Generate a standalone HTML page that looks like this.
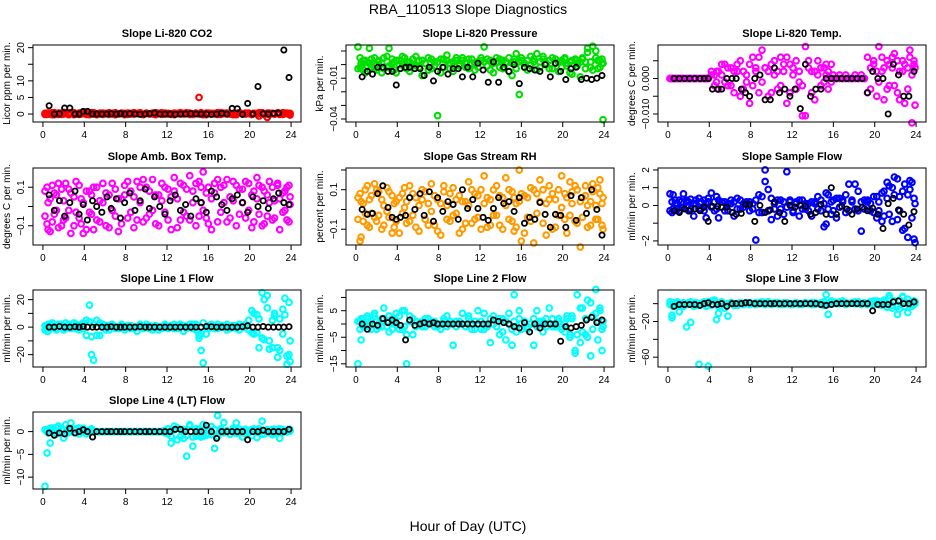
<!DOCTYPE html>
<html><head><meta charset="utf-8"><title>RBA_110513 Slope Diagnostics</title>
<style>
html,body{margin:0;padding:0;background:#fff;}
svg{display:block;font-family:"Liberation Sans",sans-serif;}
</style></head>
<body>
<svg id="chart" width="936" height="540" viewBox="0 0 936 540" xmlns="http://www.w3.org/2000/svg">
<rect width="936" height="540" fill="#fff"/>
<text x="468" y="14" text-anchor="middle" font-size="14">RBA_110513  Slope Diagnostics</text>
<text x="468" y="531" text-anchor="middle" font-size="14">Hour of Day (UTC)</text>
</svg>
<script>
const blackTimes=[0.6,1.1,1.6,2.1,2.6,3.1,3.5,3.9,4.3,4.8,5.2,5.7,6.2,6.6,7.1,7.5,7.9,8.4,8.9,9.4,9.9,10.3,10.8,11.3,11.8,12.3,12.8,13.3,13.8,14.3,14.8,15.3,15.8,16.3,16.8,17.3,17.8,18.3,18.8,19.3,19.8,20.3,20.8,21.3,21.8,22.3,22.8,23.3,23.8];
const colorTimes=[0.2,0.4,0.5,0.7,0.9,1.1,1.3,1.5,1.8,2.0,2.2,2.5,2.7,3.0,3.2,3.5,3.7,3.9,4.2,4.5,4.7,4.9,5.2,5.5,5.8,6.1,6.4,6.7,7.0,7.3,7.6,7.9,8.2,8.5,8.8,9.1,9.4,9.7,10.0,10.3,10.6,10.9,11.2,11.5,11.8,12.1,12.4,12.7,13.0,13.3,13.6,13.9,14.2,14.5,14.8,15.1,15.3,15.5,15.8,16.0,16.3,16.6,16.9,17.2,17.5,17.8,18.1,18.4,18.7,19.0,19.3,19.6,19.9,20.2,20.4,20.7,20.9,21.2,21.4,21.7,21.9,22.2,22.4,22.7,22.9,23.2,23.4,23.6,23.8,23.9];
const xTicks=[0,4,8,12,16,20,24];

const co2Black=[2.5,0,0.1,1.8,1.8,0,0,0.8,0.8,0,0,0,0,0.1,0,0.1,0,0.1,0,-0.1,0,0.1,0.3,0,0,0,-0.1,0,0,0.1,0,0,0,-0.1,0,0.2,0,1.7,1.6,-0.1,3.2,0,8.3,0.1,0,0.2,0.3,19.3,11];
const co2A=[0.2,-0.1,0.3,0,0.4,-0.2,0.1,0.3,-0.1,0.5,0.2,0,0.4,-0.2,0.1,0.3,0,0.2,-0.1,0.3,0.1,0.4,-0.2,0,0.3,0.1,-0.1,0.2,0.4,0,0.1,-0.2,0.3,0.2,0,0.1,0.4,-0.1,0.2,0,0.3,-0.2,0.1,0.4,0,0.2,-0.1,0.3,0.1,0,0.2,0.4,-0.1,0.1,0.3,5,0,-0.2,0.3,0.1,0.2,0,0.4,-0.1,0.1,0.3,0,0.2,-0.2,0.4,0.1,0,0.3,-0.1,0.2,0.1,0.4,0,-0.2,-1,0.3,0.1,0,0.2,-0.1,0.4,0.1,0.3,0,0.2];
const co2B=[-0.1,0.3,0,0.2,-0.2,0.4,0.1,-0.1,0.3,0,0.2,-0.2,0.1,0.4,0,-0.1,0.3,0.1,0.2,-0.2,0.4,0,0.1,0.3,-0.1,0.2,0.4,0,-0.2,0.1,0.3,0.2,-0.1,0,0.4,0.2,0.1,-0.2,0.3,0.1,0,0.4,0.2,-0.1,0.3,0,0.1,-0.2,0.2,0.4,0,0.1,0.3,-0.1,0.2,0,0.4,0.1,-0.2,0.3,0,0.2,-0.1,0.4,0.3,0,0.1,-0.2,0.2,0.4,0,0.3,0.1,-0.1,0.2,0,-0.6,0.4,0.1,0.3,-0.2,0.2,0,0.4,0.1,-0.1,0.3,0.2,0,-0.3];

const presBlack=[-0.009,-0.005,-0.007,-0.002,-0.002,-0.005,-0.005,-0.015,-0.003,-0.002,-0.002,-0.003,-0.003,-0.008,-0.002,-0.012,-0.005,-0.002,-0.007,-0.003,-0.003,-0.009,-0.002,-0.009,0.001,-0.004,-0.013,0.002,-0.013,-0.002,-0.005,0,-0.014,-0.002,-0.003,-0.004,-0.005,0,-0.009,0.001,-0.005,-0.011,-0.003,-0.002,-0.011,-0.01,-0.011,-0.01,-0.008];
const presA=[0.013,-0.002,0.001,-0.004,0.003,-0.001,0.012,0.004,-0.003,0,0.002,-0.006,0.005,-0.002,0.012,0.001,-0.004,0.003,0,0.006,-0.002,0.002,-0.005,0.004,-0.001,0.003,-0.008,0.001,0.005,-0.003,0.002,-0.0375,0.004,-0.002,0.003,0.001,-0.005,0.005,0,0.003,-0.002,0.004,0.001,-0.004,0.002,0.005,0.013,-0.001,0.003,-0.006,0.002,0.004,-0.003,0.001,0.005,-0.008,0.002,0.008,-0.022,0.003,0.001,-0.004,0.006,0.002,0.008,-0.002,0.004,0,-0.003,0.005,0.001,-0.005,0.003,0.004,-0.001,0.002,-0.007,0.003,0.001,-0.009,0.004,0.002,0.012,-0.002,0.0135,0.005,-0.003,0.003,0.001,-0.0405];
const presB=[-0.003,0.005,-0.001,0.003,-0.006,0.002,0.001,-0.002,0.005,-0.004,0.003,0.001,-0.003,0.006,-0.001,0.004,0.002,-0.006,0.003,0.001,0.005,-0.003,0.002,0,0.006,-0.002,0.003,0.001,-0.004,0.004,-0.001,0.002,-0.006,0.004,0.007,-0.003,0.002,0.003,-0.001,0.005,0.002,-0.003,0.004,0.001,-0.002,0.003,0.002,0.004,-0.004,0.001,0.005,-0.002,0.003,0.002,-0.005,0.001,0.004,-0.003,0.002,0.005,-0.002,0.003,0,0.004,-0.004,0.002,0.006,0.001,0.003,-0.003,0.004,0.002,-0.002,0.005,0.001,-0.006,0.003,0.004,-0.001,0.002,0.005,-0.003,0.009,0.002,-0.004,0.01,0.003,-0.002,0.004,0.001];

const tempBlack=[0,0,0,0,0,0,0,0,-0.003,-0.003,-0.003,0,0,0,-0.003,-0.004,-0.005,0,0.001,-0.006,-0.006,0.003,-0.004,-0.003,-0.005,-0.003,-0.0085,0.004,-0.005,-0.003,-0.003,0,0,0,0,0,0,0,0,-0.004,0.002,0,0,-0.01,0.004,0.001,-0.005,-0.005,0.002];
const tempA=[0,0,0,0,0,0,0,0,0,0,0,0,0,0,0,0,0,0,0.001,-0.002,0.002,-0.003,0.001,0.004,-0.002,0.003,-0.004,0.002,0.005,-0.003,0.001,-0.007,0.006,0.002,-0.004,0.008,0.003,-0.005,0.004,0.001,-0.003,0.006,0.002,-0.007,0.004,0.001,-0.003,0.002,-0.0105,0.009,0.003,-0.004,0.002,0.005,-0.002,0.003,0.001,-0.003,0.004,0,0,0.001,0,0,0,0,0.001,0,0,0,0.006,-0.003,0.004,-0.005,0.009,0.002,-0.006,0.005,-0.002,0.003,0.007,-0.004,0.002,0.005,-0.007,0.003,0.008,-0.0125,0.004,-0.0075];
const tempB=[0,0,0,0,0,0,0,0,0,0,0,0,0,0,0,0,0,0,0.002,0.001,-0.001,0.002,0.004,-0.001,0.003,-0.002,0.002,0.004,-0.005,0.002,-0.001,0.004,-0.002,0.003,0.006,-0.001,0.003,0.002,-0.004,0.005,0.002,-0.002,0.004,0.006,-0.004,0.003,0.005,-0.001,-0.002,-0.0105,0.005,0.002,-0.006,0.001,0.003,-0.001,0.004,0.002,-0.001,0.001,0,0,0,0.001,0,0,0,0,0.001,0,-0.004,0.003,0.005,0.002,-0.001,0.006,0.003,-0.003,0.004,0.006,-0.002,0.005,-0.006,0.002,0.004,-0.003,0.006,0.001,0.005,0.003];

const ambBlack=[0.06,-0.02,0.03,-0.05,0.02,0.08,-0.04,0.01,-0.07,0.03,0,-0.03,0.05,-0.01,0.04,-0.06,0.02,0.07,-0.02,0.03,0.09,-0.01,0.05,0,-0.04,0.03,0.06,-0.02,0.01,-0.05,0.04,0.02,-0.03,0.08,0.05,0.01,-0.02,0.04,0.06,0.02,-0.03,0.05,0,0.03,-0.01,0.04,0.07,0.02,0.01];
const ambA=[-0.05,0.1,-0.12,0.04,-0.08,0.07,-0.02,0.12,-0.1,0.03,-0.06,0.09,-0.14,0.05,-0.03,0.11,-0.09,0.02,-0.12,0.08,-0.04,0.1,-0.07,0.03,0.12,-0.1,0.06,-0.02,0.09,-0.13,0.04,0.11,-0.06,0.08,-0.11,0.13,0.02,-0.08,0.1,-0.04,0.14,-0.09,0.06,0.12,-0.03,0.09,-0.12,0.15,0.04,-0.07,0.11,-0.05,0.16,0.08,-0.1,0.13,0.02,0.18,-0.06,0.1,-0.12,0.07,0.14,-0.03,0.11,-0.08,0.05,0.13,-0.1,0.09,0.02,-0.06,0.12,-0.11,0.08,0.15,-0.04,0.1,-0.09,0.06,0.13,-0.07,0.03,0.11,-0.12,0.07,-0.02,0.1,-0.08,0.05];
const ambB=[0.08,-0.09,0.02,-0.13,0.11,-0.04,0.06,-0.11,0.09,-0.07,0.12,-0.02,0.07,-0.1,0.13,-0.06,0.04,-0.14,0.08,-0.03,0.06,-0.12,0.1,-0.08,0.02,0.07,-0.11,0.12,-0.05,0.04,-0.09,0.06,0.13,-0.03,0.05,-0.07,0.1,0.14,-0.06,0.08,-0.02,0.06,-0.1,0.03,0.1,-0.07,0.05,0.08,-0.11,0.12,-0.03,0.09,-0.07,0.02,0.12,-0.05,0.1,-0.02,0.07,-0.09,0.04,0.12,-0.08,0.1,0.02,0.14,-0.06,0.03,0.11,-0.04,0.09,0.13,-0.02,0.06,-0.08,0.04,0.11,-0.1,0.08,-0.05,0.02,0.1,-0.06,0.12,0.04,-0.03,0.08,-0.07,0.11,0.01];

const rhBlack=[0.0,-0.025,-0.02,0.08,0.12,0.01,-0.04,-0.05,-0.04,-0.03,0.06,0,0.08,-0.03,0.09,-0.06,0.06,-0.01,0.04,0.025,-0.05,0.1,0.005,0.05,0.005,-0.04,-0.055,0.005,0.06,0.03,0.04,-0.01,0.06,-0.07,-0.04,-0.05,0.035,-0.025,-0.09,-0.025,-0.03,-0.09,0.07,-0.055,0.06,-0.02,0.1,0.0,-0.13];
const rhA=[-0.05,0.08,-0.14,0.03,0.1,-0.08,0.05,-0.02,0.13,-0.06,0.09,-0.1,0.02,0.11,-0.04,0.07,-0.09,0.04,-0.12,0.08,0.01,-0.07,0.12,-0.03,0.06,-0.11,0.1,-0.05,0.03,0.13,-0.08,0.05,-0.13,0.09,0.02,-0.06,0.11,-0.02,0.07,-0.1,0.04,0.14,-0.07,0.08,-0.04,0.1,0.17,-0.09,0.05,-0.03,0.12,-0.08,0.06,0.16,-0.05,0.09,-0.11,0.03,0.2,-0.16,0.07,-0.04,0.11,-0.17,0.08,0.15,-0.07,0.03,0.12,-0.1,0.05,-0.03,0.17,0.08,-0.12,0.14,0.03,-0.06,0.1,-0.19,0.06,0.12,-0.09,0.04,0.09,-0.05,0.11,0.15,-0.08,0.06];
const rhB=[0.06,-0.16,0.04,-0.06,-0.02,0.12,-0.09,0.07,-0.04,0.1,-0.03,0.05,-0.08,-0.01,0.09,-0.12,0.03,-0.06,0.06,-0.02,0.11,0.04,-0.06,0.08,-0.09,0.02,0.05,0.09,-0.08,-0.01,0.07,-0.11,0.03,0.12,-0.05,0.08,-0.03,0.05,-0.12,0.04,-0.07,0.02,0.1,-0.05,0.07,-0.1,0.03,0.06,-0.08,0.1,-0.03,0.07,-0.1,0.02,0.1,-0.06,0.06,-0.09,0.04,0.08,-0.12,0.06,-0.06,0.1,-0.02,0.04,0.1,-0.13,0.05,0.08,-0.09,0.1,0.01,-0.05,0.06,-0.03,0.09,0.12,-0.07,0.04,-0.04,0.07,0.02,-0.08,0.13,0.02,-0.05,0.08,0.03,-0.1];

const sampleBlack=[-0.3,-0.4,-0.2,-0.3,-0.2,-0.3,-0.1,-0.9,-0.05,-0.05,-0.1,-0.1,-0.4,-0.5,-0.45,0.05,0.05,-0.9,0,-0.4,-0.25,0.2,-0.4,-0.9,0,-0.1,0,-0.05,-0.5,-0.4,0.05,-0.5,1.0,-0.5,-0.05,-0.2,-0.5,-0.2,-0.1,-0.3,-0.15,-0.5,-1.3,0.1,0.4,-0.25,-0.5,-1.1,-0.35];
const sampleA=[0.65,-0.4,0.6,0.1,-0.2,0.3,-0.1,0.65,0.2,-0.3,0.35,-0.6,0.1,0.4,-0.2,0.3,-0.7,0.2,0.7,-0.3,0.5,-0.7,0.2,-0.3,0.1,0.3,-0.6,0.4,-0.2,0.1,0.2,-0.3,0.1,-1.95,0.6,-0.4,2.0,0.9,-0.8,0.1,-0.6,0.3,-0.5,1.9,0.2,-0.3,0.1,-0.6,0.3,-0.2,0.1,-0.6,0.2,0.5,-0.3,0.1,-1.05,0.6,-0.5,0.3,-0.7,0.4,0.2,-0.4,1.2,0.3,-0.2,0.8,-1.45,0.3,0.2,-0.3,0.5,-0.7,0.2,-0.9,0.8,1.3,-0.5,1.0,1.6,-0.8,0.5,-1.4,1.2,-1.8,0.9,1.3,-1.9,0.1];
const sampleB=[-0.3,0.2,-0.2,0.3,0.1,-0.3,0.2,-0.1,0.3,0.2,-0.2,0.1,0.3,-0.2,0.2,-0.3,0.1,0.4,-0.1,0.2,-0.2,0.3,-0.1,0.2,-0.3,0.1,0.2,-0.2,0.3,-0.1,0.1,0.2,-0.2,0.3,-0.4,0.5,1.35,-0.3,0.4,-0.2,0.3,-0.2,0.2,-0.1,0.3,-0.4,0.2,0.3,-0.2,0.1,-0.3,0.2,0.1,-0.2,0.3,-1.2,0.7,-0.2,0.2,-0.3,0.4,-0.1,0.3,0.6,-0.3,0.2,1.2,-0.3,0.2,-0.2,0.3,0.1,-0.4,0.5,-0.3,0.7,-0.6,0.4,1.1,-0.9,0.6,1.5,-0.3,0.8,-1.3,0.6,1.4,-0.7,0.4,-2.1];

const line1Black=[0,0,0.5,0,0,0.3,0,0.5,0,0,0,0,0,0.3,0,0,0,0,0,0.3,0,0,0,0,0,0,0,0,0,0,0,0,0.5,0.3,0,0,0,0,0,0.3,1,0,0,0.5,0,0,0,0,0.3];
const line1A=[-2,1,-3,2,0,1,-1,2,0,-2,3,1,-1,0,2,-2,1,3,-6,16,-20,-24,5,-6,2,1,-2,1,0,-1,2,0,1,-1,0,-3,1,0,2,-1,0,1,-2,0,1,-1,0,2,-1,1,-3,0,2,-1,2,-6,-17,-26,-5,1,0,-1,2,0,1,-2,0,1,-1,2,1,0,-2,12,-5,9,-15,25,-9,14,-16,5,10,-22,-17,13,21,-27,-20,-25];
const line1B=[1,-3,2,-1,3,0,-2,1,2,0,-1,2,0,3,-1,1,2,-1,5,4,-7,2,-6,3,0,-2,1,2,-1,0,1,-2,0,1,-1,0,2,-1,0,1,-2,1,0,-1,2,0,1,-1,0,2,1,-1,0,2,-2,-8,-5,3,0,-1,2,0,-1,1,0,2,-1,0,1,-2,0,2,5,-4,10,-4,6,-8,20,23,-10,-15,8,-15,6,-5,9,-21,18,-10];

const line2Black=[0,-2,0,-0.5,2,0.5,1.5,0.5,-0.5,-6,1.5,-0.5,0,0.5,0,0.5,0,0,0,0,0,0,0,0,0,0,0,1.5,1,0.5,0,-1,-1.5,0.5,-3,0,-1.5,0,0,0,-6.5,-1,-1.5,-1,-0.5,1.5,2.5,0.5,1.5];
const line2A=[-15,1,-6,2,-1,3,0,-2,4,1,-1,2,6,-1,3,-2,1,0,-2,5,-1,-15,3,-4,1,0,-1,2,0,1,-1,0,-2,1,3,0,-8,1,0,4,-1,2,0,-2,5,1,-2,0,-7,3,-1,-4,2,-6,4,-8,11,-3,5,-2,1,-2,0,-8,5,1,-3,2,6,-1,0,2,-1,-3,2,-5,3,-10,11,-7,6,-4,9,-12,3,13,-6,5,-10,1];
const line2B=[1,-2,2,-1,0,2,-1,1,3,-2,0,-1,2,1,-3,2,0,4,3,-2,5,-4,1,2,-1,0,1,-1,2,0,1,-1,0,2,-1,1,0,-1,1,0,-1,3,-2,1,0,-2,4,-1,2,0,1,2,-3,1,0,-2,1,-1,2,0,1,-1,0,2,-1,0,1,-1,0,2,-1,1,-2,0,3,-4,2,-11,-4,6,-3,2,-5,8,-2,4,1,6,-2,-1];

const line3Black=[-3,-1,-1,-1,-1,-2,0,1,-1,-1,0,-3,0,0,0,1,1,0,0,0,0,0,0,0,0,0,0,0,0,0,-1,-2,-1,0,0,0,0,0,0,0,-8,-1,-1,-1,2,3,0,0,2];
const line3A=[-1,-13,-3,-2,0,-9,-1,-3,-26,1,-21,-3,0,-68,-1,2,-3,-70,-2,3,-18,-3,0,-5,-14,1,0,-2,1,0,1,-1,0,1,0,2,0,1,-1,0,1,0,-1,1,0,-1,1,0,-1,1,0,1,-1,0,1,-2,10,-12,0,2,1,0,3,1,0,1,0,2,0,1,-1,0,3,0,-1,2,1,-4,9,-2,3,-12,-6,8,2,-10,-1,-3,2,0];
const line3B=[2,-16,1,-1,2,0,-3,1,-1,0,2,-1,1,-2,0,-1,1,2,3,4,1,-11,2,-1,0,1,-2,0,1,-1,0,1,0,-1,1,0,-1,2,0,1,0,-1,1,0,-1,0,1,-1,0,1,0,-1,1,0,-1,2,-1,0,3,1,0,2,1,-1,0,1,2,0,-1,1,0,2,-1,3,2,-2,4,-1,6,-5,2,-3,4,7,-3,5,1,-1,3,2];

const line4Black=[-0.3,-0.8,-0.3,-0.5,0.7,-0.3,0,0.4,0,-1.2,0,0,0,0,0,0,0,0,0,0,0,0,0,0,0,0,0.5,0.5,0,0,0,0,1.4,0,-1.5,0,0,0,0,0,-1.8,0,0,0.3,0,0,0,0,0.5];
const line4A=[-12,-4.7,0.5,-2.5,0.8,0.3,-0.5,1.2,0.6,-1.4,1.5,-0.2,1.9,0.5,-0.3,0.8,0.2,0.7,-0.5,0.3,0.6,0,0,0,0,0,0,0,0,0,0,0,0,0,0,0,0,0,0,0,0,0,0,0,0.3,-0.5,-2.5,1.2,-1.8,0.5,-1.5,-5.4,1.2,-3.2,-1,0.6,-1.2,1.5,-0.8,-0.5,1.1,-3.7,3.5,0.2,2,0,-0.5,0.7,1.9,-0.4,-1.2,0.5,-0.3,0.4,0.2,-1.3,0.6,2.3,-0.5,0.4,0.2,-0.7,0.5,0.3,-1.5,0.4,0.2,0,0.5,0.1];
const line4B=[0.4,0.2,-0.3,0.7,0.5,-0.4,0.9,-0.2,0.5,0.3,-0.6,0.8,0.3,-0.2,0.6,-0.5,0.4,0.3,0.1,-0.3,0.2,0,0,0,0,0,0,0,0,0,0,0,0,0,0,0,0,0,0,0,0,0,0,0,-0.3,0.6,-1,0.4,0.8,-1.1,0.5,-0.8,1.5,-1.2,0.6,-0.9,0.3,-1,1.2,0.5,-0.7,0.4,-1.1,0.6,-0.3,0.2,-0.6,0.3,-0.4,0.5,0.3,-0.5,0.2,-0.9,0.6,-0.2,0.4,-0.6,0.3,0.2,-0.3,0.5,-0.4,0.2,0.6,-0.2,0.3,-0.1,0.2,0.4];

const colLeft=[33,346,658], rowTop=[45,168,290,412], boxW=268, boxH=77;
const panels=[
 {name:'co2',title:'Slope Li-820 CO2',ylab:'Licor ppm per min.',col:0,row:0,ymin:-2.4,ymax:20.8,ticks:[0,5,10,15,20],labels:['0','5','10','','20'],color:'#ff0000',a:co2A,b:co2B,k:co2Black},
 {name:'pressure',title:'Slope Li-820 Pressure',ylab:'kPa per min.',col:1,row:0,ymin:-0.0422,ymax:0.0144,ticks:[0.01,0,-0.01,-0.02,-0.03,-0.04],labels:['','','-0.01','','','-0.04'],color:'#00e000',a:presA,b:presB,k:presBlack},
 {name:'temp',title:'Slope Li-820 Temp.',ylab:'degrees C per min.',col:2,row:0,ymin:-0.01226,ymax:0.00944,ticks:[0.005,0,-0.005,-0.01],labels:['','0.000','','-0.010'],color:'#ff00ff',a:tempA,b:tempB,k:tempBlack},
 {name:'amb-box-temp',title:'Slope Amb. Box Temp.',ylab:'degrees C per min.',col:0,row:1,ymin:-0.2,ymax:0.2,ticks:[0.1,0,-0.1],labels:['0.1','','-0.1'],color:'#ff00ff',a:ambA,b:ambB,k:ambBlack},
 {name:'gas-stream-rh',title:'Slope Gas Stream RH',ylab:'percent per min.',col:1,row:1,ymin:-0.18,ymax:0.21,ticks:[0.2,0.1,0,-0.1],labels:['','0.1','','-0.1'],color:'#ff9a00',a:rhA,b:rhB,k:rhBlack},
 {name:'sample-flow',title:'Slope Sample Flow',ylab:'ml/min per min.',col:2,row:1,ymin:-2.23,ymax:2.11,ticks:[2,1,0,-1,-2],labels:['2','1','0','','-2'],color:'#0000ff',a:sampleA,b:sampleB,k:sampleBlack},
 {name:'line1-flow',title:'Slope Line 1 Flow',ylab:'ml/min per min.',col:0,row:2,ymin:-29,ymax:27,ticks:[20,10,0,-10,-20],labels:['20','','0','','-20'],color:'#00ffff',a:line1A,b:line1B,k:line1Black},
 {name:'line2-flow',title:'Slope Line 2 Flow',ylab:'ml/min per min.',col:1,row:2,ymin:-16.2,ymax:12.8,ticks:[10,5,0,-5,-10,-15],labels:['','5','','-5','','-15'],color:'#00ffff',a:line2A,b:line2B,k:line2Black},
 {name:'line3-flow',title:'Slope Line 3 Flow',ylab:'ml/min per min.',col:2,row:2,ymin:-71,ymax:15.3,ticks:[0,-20,-40,-60],labels:['','-20','','-60'],color:'#00ffff',a:line3A,b:line3B,k:line3Black},
 {name:'line4-flow',title:'Slope Line 4 (LT) Flow',ylab:'ml/min per min.',col:0,row:3,ymin:-12.6,ymax:4.3,ticks:[0,-5,-10],labels:['0','-5','-10'],color:'#00ffff',a:line4A,b:line4B,k:line4Black}
];
const NS='http://www.w3.org/2000/svg';
const svg=document.getElementById('chart');
function mk(tag,attrs,parent){const e=document.createElementNS(NS,tag);for(const k in attrs)e.setAttribute(k,attrs[k]);(parent||svg).appendChild(e);return e;}
panels.forEach(p=>{
  const L=colLeft[p.col],T=rowTop[p.row];
  const xs=v=>L+(v+0.96)/25.92*boxW;
  const ys=v=>T+boxH-(v-p.ymin)/(p.ymax-p.ymin)*boxH;
  const g=mk('g',{});
  
  
  const t=mk('text',{x:L+boxW/2,y:T-8,'text-anchor':'middle','font-size':'11','font-weight':'bold'},g);
  t.textContent=p.title;
  
  
  const yl=mk('text',{transform:`translate(${L-23},${T+boxH/2}) rotate(-90)`,'text-anchor':'middle','font-size':'10'},g);
  yl.textContent=p.ylab;
  
  
  const pts=mk('g',{fill:'none'},g);
  
  
  [p.a,p.b].forEach(arr=>{
    arr.forEach((v,i)=>{
      const c=mk('circle',{cx:xs(colorTimes[i]),cy:ys(v),r:2.8,stroke:p.color,'stroke-width':2.1},pts);
      
      
    });
  });
  p.k.forEach((v,i)=>{
    const c=mk('circle',{cx:xs(blackTimes[i]),cy:ys(v),r:2.6,stroke:'#000','stroke-width':1.8},pts);
    
    
  });
  const box=mk('rect',{x:L,y:T,width:boxW,height:boxH,fill:'none',stroke:'#000','stroke-width':1},g);
  
  
  const ya=mk('g',{},g);
  
  
  p.ticks.forEach((v,i)=>{
    const y=ys(v);
    mk('line',{x1:L-5,x2:L,y1:y,y2:y,stroke:'#000'},ya);
    if(p.labels[i]){
      const tl=mk('text',{transform:`translate(${L-9},${y}) rotate(-90)`,'text-anchor':'middle','font-size':'10'},ya);
      tl.textContent=p.labels[i].replace('-','\u2212');
    }
  });
  const xa=mk('g',{},g);
  
  
  mk('line',{x1:xs(0),x2:xs(24),y1:T+boxH,y2:T+boxH,stroke:'#000'},xa);
  xTicks.forEach(v=>{
    const x=xs(v);
    mk('line',{x1:x,x2:x,y1:T+boxH,y2:T+boxH+5,stroke:'#000'},xa);
    const tl=mk('text',{x:x,y:T+boxH+16,'text-anchor':'middle','font-size':'10'},xa);
    tl.textContent=v;
  });
});
</script>
</body></html>
